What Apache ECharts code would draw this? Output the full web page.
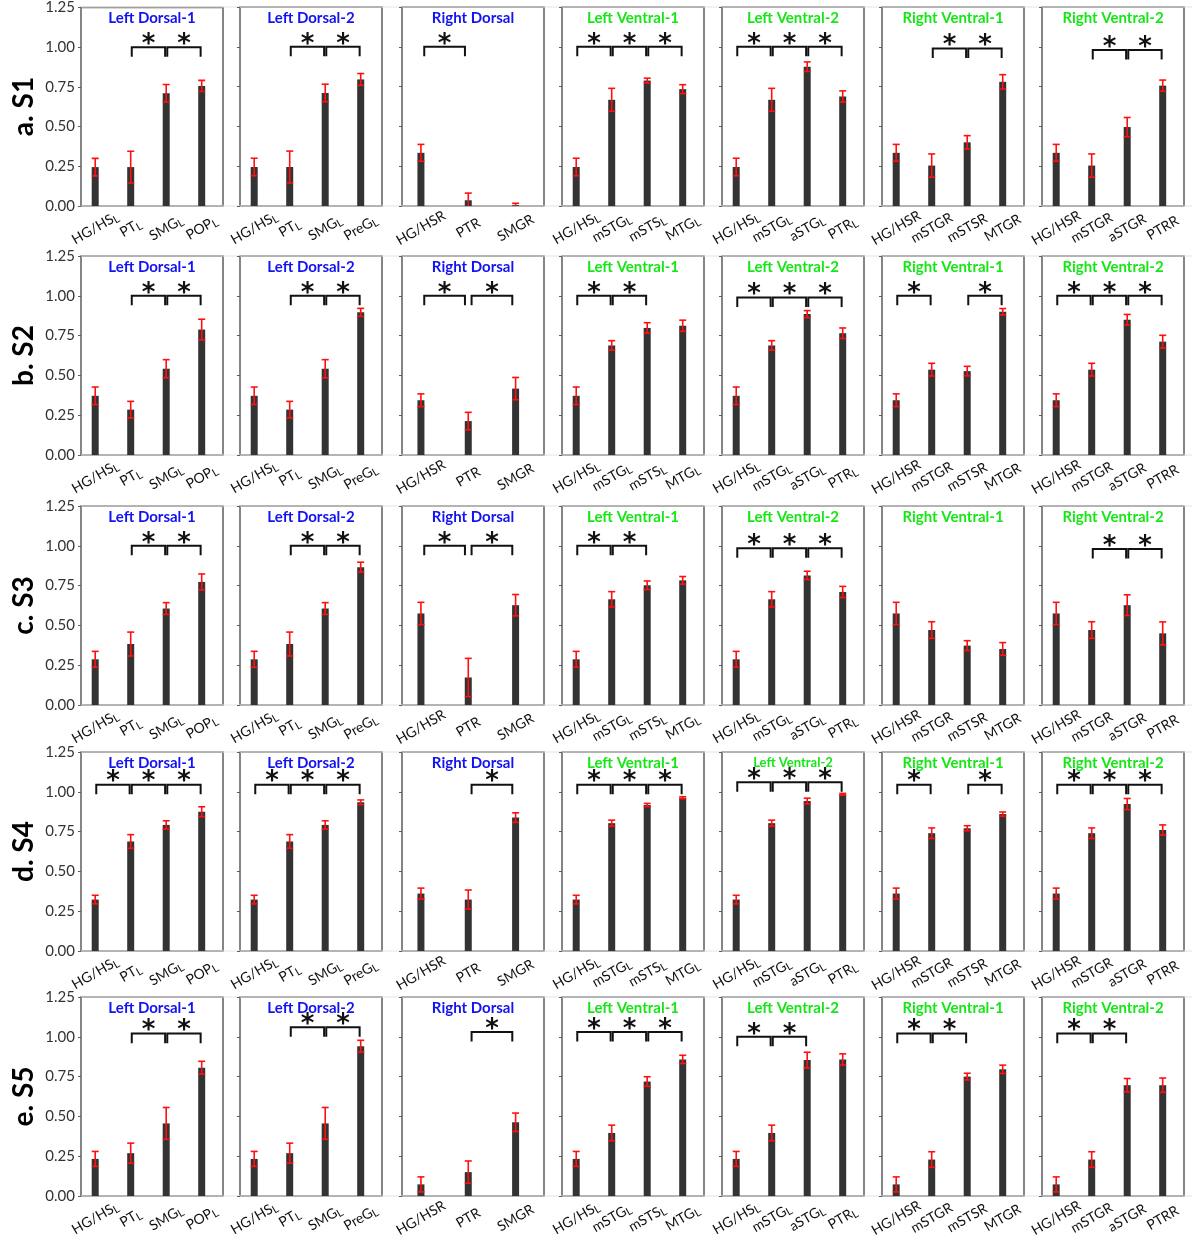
<!DOCTYPE html>
<html>
<head>
<meta charset="utf-8">
<script src="https://cdn.jsdelivr.net/npm/echarts@6/dist/echarts.min.js"></script>
<style>
  html, body { margin: 0; padding: 0; background: #fff; }
  #chart { width: 1192px; height: 1245px; }
</style>
</head>
<body>
<div id="chart"></div>
<script>
// ---- Panel definitions -------------------------------------------------
const panelTitles = ['Left Dorsal-1', 'Left Dorsal-2', 'Right Dorsal', 'Left Ventral-1',
                     'Left Ventral-2', 'Right Ventral-1', 'Right Ventral-2'];
const panelStream = ['dorsal', 'dorsal', 'dorsal', 'ventral', 'ventral', 'ventral', 'ventral'];
const panelRegions = [
  ['HG/HSL', 'PTL', 'SMGL', 'POPL'],
  ['HG/HSL', 'PTL', 'SMGL', 'PreGL'],
  ['HG/HSR', 'PTR', 'SMGR'],
  ['HG/HSL', 'mSTGL', 'mSTSL', 'MTGL'],
  ['HG/HSL', 'mSTGL', 'aSTGL', 'PTRL'],
  ['HG/HSR', 'mSTGR', 'mSTSR', 'MTGR'],
  ['HG/HSR', 'mSTGR', 'aSTGR', 'PTRR']
];
const rowLabels = ['a. S1', 'b. S2', 'c. S3', 'd. S4', 'e. S5'];
const yTickValues = [0, 0.25, 0.5, 0.75, 1.0, 1.25];

// ---- Mean connectivity per region (one inner list per panel) ------------
const s1Values = [
  [0.245, 0.245, 0.71, 0.756],
  [0.245, 0.245, 0.71, 0.795],
  [0.334, 0.036, 0.005],
  [0.245, 0.667, 0.788, 0.734],
  [0.245, 0.667, 0.875, 0.688],
  [0.334, 0.254, 0.40, 0.78],
  [0.334, 0.254, 0.496, 0.756]
];
const s1Errors = [
  [0.055, 0.10, 0.055, 0.035],
  [0.055, 0.10, 0.055, 0.037],
  [0.053, 0.045, 0.012],
  [0.055, 0.072, 0.015, 0.028],
  [0.055, 0.072, 0.03, 0.035],
  [0.053, 0.073, 0.042, 0.045],
  [0.053, 0.073, 0.06, 0.035]
];
const s1Brackets = [
  [[2, 3, 1.0], [3, 4, 1.0]],
  [[2, 3, 1.0], [3, 4, 1.0]],
  [[1, 2, 1.0]],
  [[1, 2, 1.0], [2, 3, 1.0], [3, 4, 1.0]],
  [[1, 2, 1.0], [2, 3, 1.0], [3, 4, 1.0]],
  [[2, 3, 0.99], [3, 4, 0.99]],
  [[2, 3, 0.98], [3, 4, 0.98]]
];

const s2Values = [
  [0.372, 0.285, 0.542, 0.788],
  [0.372, 0.285, 0.542, 0.896],
  [0.344, 0.213, 0.417],
  [0.372, 0.688, 0.798, 0.812],
  [0.372, 0.688, 0.885, 0.765],
  [0.344, 0.536, 0.527, 0.90],
  [0.344, 0.536, 0.85, 0.712]
];
const s2Errors = [
  [0.055, 0.052, 0.057, 0.065],
  [0.055, 0.052, 0.057, 0.025],
  [0.04, 0.055, 0.07],
  [0.055, 0.03, 0.033, 0.035],
  [0.055, 0.03, 0.022, 0.033],
  [0.04, 0.04, 0.03, 0.02],
  [0.04, 0.04, 0.033, 0.04]
];
const s2Brackets = [
  [[2, 3, 1.0], [3, 4, 1.0]],
  [[2, 3, 1.0], [3, 4, 1.0]],
  [[1, 2, 1.0], [2, 3, 1.0]],
  [[1, 2, 1.0], [2, 3, 1.0]],
  [[1, 2, 0.99], [2, 3, 0.99], [3, 4, 0.99]],
  [[1, 2, 1.0], [3, 4, 1.0]],
  [[1, 2, 1.0], [2, 3, 1.0], [3, 4, 1.0]]
];

const s3Values = [
  [0.287, 0.383, 0.606, 0.773],
  [0.287, 0.383, 0.606, 0.866],
  [0.575, 0.173, 0.627],
  [0.287, 0.664, 0.752, 0.783],
  [0.287, 0.664, 0.814, 0.71],
  [0.575, 0.471, 0.373, 0.352],
  [0.575, 0.471, 0.627, 0.45]
];
const s3Errors = [
  [0.05, 0.075, 0.037, 0.05],
  [0.05, 0.075, 0.037, 0.031],
  [0.07, 0.12, 0.067],
  [0.05, 0.048, 0.027, 0.024],
  [0.05, 0.048, 0.026, 0.035],
  [0.07, 0.052, 0.031, 0.04],
  [0.07, 0.052, 0.065, 0.072]
];
const s3Brackets = [
  [[2, 3, 1.0], [3, 4, 1.0]],
  [[2, 3, 1.0], [3, 4, 1.0]],
  [[1, 2, 1.0], [2, 3, 1.0]],
  [[1, 2, 1.0], [2, 3, 1.0]],
  [[1, 2, 0.985], [2, 3, 0.985], [3, 4, 0.985]],
  [],
  [[2, 3, 0.98], [3, 4, 0.98]]
];

const s4Values = [
  [0.323, 0.688, 0.792, 0.875],
  [0.323, 0.688, 0.792, 0.934],
  [0.361, 0.323, 0.838],
  [0.323, 0.803, 0.917, 0.963],
  [0.323, 0.803, 0.942, 0.984],
  [0.361, 0.74, 0.771, 0.86],
  [0.361, 0.74, 0.923, 0.76]
];
const s4Errors = [
  [0.027, 0.043, 0.026, 0.031],
  [0.027, 0.043, 0.026, 0.015],
  [0.034, 0.06, 0.03],
  [0.027, 0.019, 0.01, 0.006],
  [0.027, 0.019, 0.018, 0.006],
  [0.034, 0.033, 0.016, 0.013],
  [0.034, 0.033, 0.035, 0.032]
];
const s4Brackets = [
  [[1, 2, 1.045], [2, 3, 1.045], [3, 4, 1.045]],
  [[1, 2, 1.045], [2, 3, 1.045], [3, 4, 1.045]],
  [[2, 3, 1.045]],
  [[1, 2, 1.045], [2, 3, 1.045], [3, 4, 1.045]],
  [[1, 2, 1.06], [2, 3, 1.06], [3, 4, 1.06]],
  [[1, 2, 1.045], [3, 4, 1.045]],
  [[1, 2, 1.045], [2, 3, 1.045], [3, 4, 1.045]]
];

const s5Values = [
  [0.233, 0.269, 0.456, 0.806],
  [0.233, 0.269, 0.456, 0.941],
  [0.073, 0.15, 0.463],
  [0.233, 0.396, 0.719, 0.858],
  [0.233, 0.396, 0.854, 0.858],
  [0.073, 0.229, 0.75, 0.796],
  [0.073, 0.229, 0.696, 0.696]
];
const s5Errors = [
  [0.047, 0.063, 0.10, 0.04],
  [0.047, 0.063, 0.10, 0.037],
  [0.047, 0.07, 0.058],
  [0.047, 0.049, 0.03, 0.026],
  [0.047, 0.049, 0.049, 0.035],
  [0.047, 0.049, 0.021, 0.026],
  [0.047, 0.049, 0.042, 0.045]
];
const s5Brackets = [
  [[2, 3, 1.02], [3, 4, 1.02]],
  [[2, 3, 1.06], [3, 4, 1.06]],
  [[2, 3, 1.03]],
  [[1, 2, 1.03], [2, 3, 1.03], [3, 4, 1.03]],
  [[1, 2, 1.0], [2, 3, 1.0]],
  [[1, 2, 1.02], [2, 3, 1.02]],
  [[1, 2, 1.02], [2, 3, 1.02]]
];

const sessions = [
  { values: s1Values, errors: s1Errors, brackets: s1Brackets },
  { values: s2Values, errors: s2Errors, brackets: s2Brackets },
  { values: s3Values, errors: s3Errors, brackets: s3Brackets },
  { values: s4Values, errors: s4Errors, brackets: s4Brackets },
  { values: s5Values, errors: s5Errors, brackets: s5Brackets }
];

// ---- Layout & style ----------------------------------------------------
const colLeft = [81, 240, 402, 562, 722, 882, 1042];
const rowTop = [7, 256, 506, 752, 997];
const boxW = 142, boxH = 199;
const streamColor = { dorsal: '#1212f2', ventral: '#16e616' };
const titleSizeOverride = { '3-4': 13 };
const FONT = 'Lato, "Open Sans", sans-serif';

// Region names carry a hemisphere suffix; a trailing "L" is set as a subscript.
function regionLabel(name) {
  if (name.endsWith('L')) return name.slice(0, -1) + '{s|L}';
  return name;
}

function renderErrorBar(params, api) {
  const x = api.value(0), v = api.value(1), e = api.value(2);
  const top = api.coord([x, v + e]);
  const bot = api.coord([x, v - e]);
  const hw = 3.5;
  const style = { stroke: '#ff1010', lineWidth: 1.6 };
  return {
    type: 'group',
    children: [
      { type: 'line', shape: { x1: top[0], y1: top[1], x2: bot[0], y2: bot[1] }, style },
      { type: 'line', shape: { x1: top[0] - hw, y1: top[1], x2: top[0] + hw, y2: top[1] }, style },
      { type: 'line', shape: { x1: bot[0] - hw, y1: bot[1], x2: bot[0] + hw, y2: bot[1] }, style }
    ]
  };
}

function makeBracketRenderer(n) {
  const inset = n === 3 ? 0.07 : 0.03;
  return function (params, api) {
    const a = api.value(0), b = api.value(1), h = api.value(2);
    const p1 = api.coord([a + inset, h]);
    const p2 = api.coord([b - inset, h]);
    const drop = api.coord([a, h - 0.06])[1];
    const mid = api.coord([(a + b) / 2, h]);
    return {
      type: 'group',
      children: [
        {
          type: 'polyline',
          shape: { points: [[p1[0], drop], [p1[0], p1[1]], [p2[0], p2[1]], [p2[0], drop]] },
          style: { stroke: '#111', lineWidth: 2, fill: null }
        },
        {
          type: 'text',
          style: {
            text: '*', x: mid[0], y: mid[1] - 2,
            align: 'center', verticalAlign: 'middle',
            font: 'bold 26px "DejaVu Sans"', fill: '#111'
          }
        }
      ]
    };
  };
}

const grids = [], xAxes = [], yAxes = [], series = [], graphics = [];

sessions.forEach((sess, r) => {
  // faint frame lines along the top and base of each row
  graphics.push({ type: 'line', silent: true, z: 0,
    shape: { x1: colLeft[0], y1: rowTop[r], x2: 1192, y2: rowTop[r] },
    style: { stroke: '#e2e2e2', lineWidth: 1 } });
  graphics.push({ type: 'line', silent: true, z: 0,
    shape: { x1: colLeft[0], y1: rowTop[r] + boxH, x2: 1192, y2: rowTop[r] + boxH },
    style: { stroke: '#e2e2e2', lineWidth: 1 } });

  // session label on the left
  graphics.push({
    type: 'text', x: 24, y: rowTop[r] + boxH / 2, rotation: Math.PI / 2, silent: true,
    style: { text: rowLabels[r], align: 'center', verticalAlign: 'middle',
             font: 'bold 28px ' + FONT, fill: '#000' }
  });

  panelTitles.forEach((title, c) => {
    const idx = grids.length;
    const cats = panelRegions[c];
    const n = cats.length;

    grids.push({
      left: colLeft[c], top: rowTop[r], width: boxW, height: boxH,
      show: true, borderColor: '#5e5e5e', borderWidth: 1.5, backgroundColor: 'transparent'
    });

    xAxes.push({
      gridIndex: idx, type: 'value', min: 0.6, max: n + 0.6,
      axisLine: { show: false }, axisTick: { show: false }, splitLine: { show: false },
      axisLabel: {
        customValues: cats.map((_, i) => i + 1),
        hideOverlap: false,
        formatter: v => regionLabel(cats[Math.round(v) - 1]),
        rotate: 30, align: 'center', verticalAlign: 'middle', margin: 22,
        fontSize: 14, fontFamily: FONT, color: '#111', lineHeight: 17,
        rich: { s: { fontSize: 11, fontFamily: FONT, color: '#111', verticalAlign: 'bottom', lineHeight: 17 } }
      }
    });

    yAxes.push({
      gridIndex: idx, type: 'value', min: 0, max: 1.25, interval: 0.25,
      axisLine: { show: false }, splitLine: { show: false },
      axisTick: { show: true, length: 3, lineStyle: { color: '#5e5e5e', width: 1 } },
      axisLabel: {
        show: c === 0, margin: 6, fontSize: 15, fontFamily: FONT, color: '#333',
        customValues: yTickValues,
        formatter: v => v.toFixed(2)
      }
    });

    series.push({
      type: 'bar', xAxisIndex: idx, yAxisIndex: idx, silent: true,
      barWidth: 7, itemStyle: { color: '#333333' },
      data: sess.values[c].map((v, i) => [i + 1, v])
    });

    series.push({
      type: 'custom', xAxisIndex: idx, yAxisIndex: idx, silent: true, clip: true, z: 3,
      renderItem: renderErrorBar,
      data: sess.values[c].map((v, i) => [i + 1, v, sess.errors[c][i]])
    });

    series.push({
      type: 'custom', xAxisIndex: idx, yAxisIndex: idx, silent: true, clip: false, z: 4,
      renderItem: makeBracketRenderer(n),
      data: sess.brackets[c]
    });

    const tSize = titleSizeOverride[r + '-' + c] || 15;
    graphics.push({
      type: 'text', x: colLeft[c] + boxW / 2, y: rowTop[r] + 11, silent: true, z: 10,
      style: { text: title, align: 'center', verticalAlign: 'middle',
               font: 'bold ' + tSize + 'px ' + FONT, fill: streamColor[panelStream[c]] }
    });
  });
});

const chart = echarts.init(document.getElementById('chart'), null, { renderer: 'canvas' });
chart.setOption({
  animation: false,
  backgroundColor: '#fff',
  grid: grids,
  xAxis: xAxes,
  yAxis: yAxes,
  series: series,
  graphic: graphics
});
</script>
</body>
</html>
